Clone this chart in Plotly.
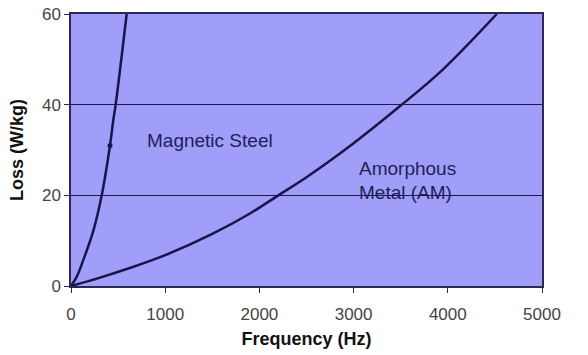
import plotly.graph_objects as go

# Magnetic steel loss curve (Hz, W/kg)
ms_freq = [0, 60, 130, 240, 326, 414, 449, 474, 591]
ms_loss = [0, 2.0, 5.7, 12.4, 20.0, 31.0, 36.6, 40.0, 60.0]

# Amorphous metal loss curve (Hz, W/kg)
am_freq = [0, 300, 600, 1000, 1500, 1900, 2200, 2500, 3000, 3500, 3950, 4520]
am_loss = [0, 1.8, 3.8, 6.8, 11.5, 16.0, 20.0, 24.0, 31.5, 39.8, 47.8, 60.0]

# single visible data marker on the steel curve
marker_freq = [414]
marker_loss = [31.0]

x_ticks = [0, 1000, 2000, 3000, 4000, 5000]
y_ticks = [0, 20, 40, 60]

line_col = "#16164a"
fig = go.Figure()
fig.add_trace(go.Scatter(x=ms_freq, y=ms_loss, mode="lines", line=dict(color=line_col, width=2.5, shape="spline"),
                         showlegend=False, hoverinfo="skip"))
fig.add_trace(go.Scatter(x=am_freq, y=am_loss, mode="lines", line=dict(color=line_col, width=2.5, shape="spline"),
                         showlegend=False, hoverinfo="skip"))
fig.add_trace(go.Scatter(x=marker_freq, y=marker_loss, mode="markers", marker=dict(color=line_col, size=5),
                         showlegend=False, hoverinfo="skip"))

ann_font = dict(family="Liberation Sans, Arial", size=19, color="#1e1e5a")
fig.add_annotation(x=786, y=32.2, text="Magnetic Steel", showarrow=False, xanchor="left", yanchor="middle", font=ann_font)
fig.add_annotation(x=3033, y=26.0, text="Amorphous", showarrow=False, xanchor="left", yanchor="middle", font=ann_font)
fig.add_annotation(x=3033, y=20.7, text="Metal (AM)", showarrow=False, xanchor="left", yanchor="middle", font=ann_font)

axis_font = dict(family="Liberation Sans, Arial", size=17, color="#444444")
title_font = dict(family="Liberation Sans, Arial", size=18, color="#111111")

fig.update_layout(
    width=588, height=355,
    margin=dict(l=71, r=46, t=14, b=69),
    paper_bgcolor="white",
    plot_bgcolor="#a09ef8",
    xaxis=dict(range=[0, 5000], tickvals=x_ticks, ticktext=[str(v) for v in x_ticks],
               showgrid=False, zeroline=False, showline=True, linecolor="#2a2a55", linewidth=1.5,
               mirror=True, ticks="outside", ticklen=5, tickcolor="#2a2a55", automargin=False,
               ticklabelstandoff=7,
               tickfont=axis_font, title=dict(text="<b>Frequency (Hz)</b>", font=title_font, standoff=9)),
    yaxis=dict(range=[0, 60], tickvals=y_ticks, ticktext=[str(v) for v in y_ticks],
               showgrid=True, gridcolor="#1a1a50", gridwidth=1, zeroline=False,
               showline=True, linecolor="#2a2a55", linewidth=1.5, mirror=True,
               ticks="outside", ticklen=5, tickcolor="#2a2a55", automargin=False,
               tickfont=axis_font, title=dict(text="<b>Loss (W/kg)</b>", font=title_font, standoff=14)),
)

# remove the browser's default 8px body margin so the figure sits at the page origin
fig.write_html("out.html", config={"displayModeBar": False},
               post_script="document.body.style.margin='0';")
